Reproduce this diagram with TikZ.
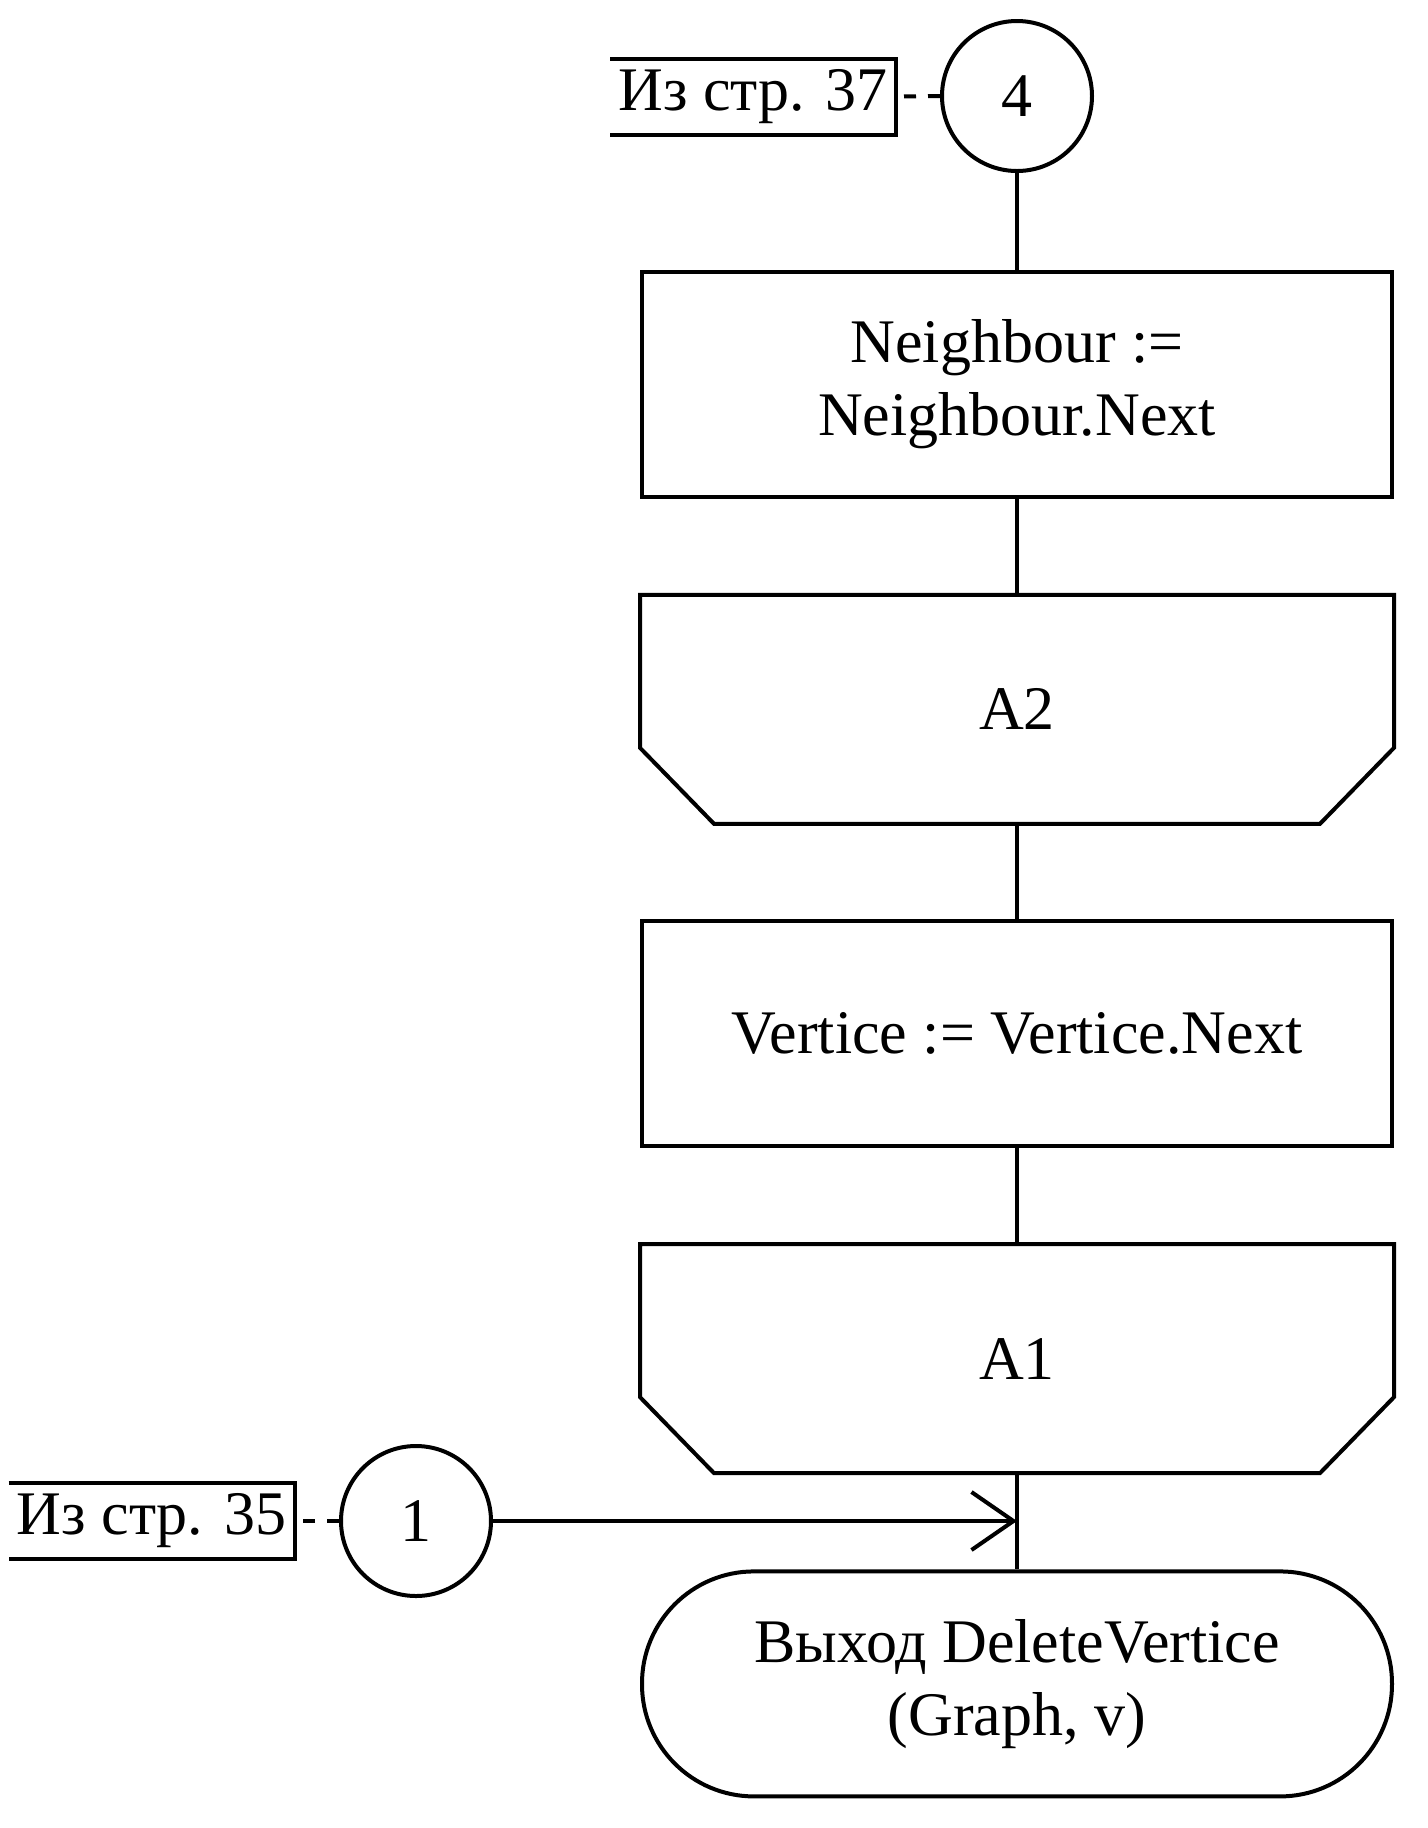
\documentclass[tikz,border=0pt]{standalone}
\usepackage{fontspec}
\setmainfont{Liberation Serif}
\usetikzlibrary{arrows.meta}
\begin{document}
\begin{tikzpicture}[x=0.5pt,y=-0.5pt, line width=2pt,
  font=\fontsize{31}{36.5}\selectfont,
  proc/.style={draw, rectangle, minimum width=375pt, minimum height=112.5pt, align=center, inner sep=0pt},
  loopend/.style={rectangle, minimum width=375pt, minimum height=112.5pt, inner sep=0pt},
  termbox/.style={draw, rectangle, rounded corners=56pt, minimum width=375pt, minimum height=112.5pt, align=center, inner sep=0pt},
  conn/.style={draw, circle, minimum size=75pt, inner sep=0pt},
  lbl/.style={rectangle, minimum width=141pt, minimum height=36pt, inner sep=0pt},
  comment/.style={dash pattern=on 6pt off 6pt},
  flow/.style={-{Straight Barb[length=21pt,width=29pt]}}
]
\useasboundingbox (0,0) rectangle (1428,1828);

\node[conn] (c4) at (1017,96) {4};
\node[lbl] (l37) at (753,96.5) {Из стр. 37};
\node[proc] (b1) at (1017,384) {Neighbour :=\\Neighbour.Next};
\node[loopend] (a2) at (1017,709.3) {A2};
\node[proc] (b3) at (1017,1033.4) {Vertice := Vertice.Next};
\node[loopend] (a1) at (1017,1358.6) {A1};
\node[termbox] (term) at (1017,1683.9) {Выход DeleteVertice\\(Graph, v)};
\node[conn] (c1) at (416,1521) {1};
\node[lbl] (l35) at (151.5,1521) {Из стр. 35};

% loop end shapes
\foreach \n in {a2,a1}{
  \draw ([yshift=38pt]\n.south west) -- (\n.north west) -- (\n.north east)
        -- ([yshift=38pt]\n.south east) -- ([xshift=-37pt]\n.south east)
        -- ([xshift=37pt]\n.south west) -- cycle;
}

% comment brackets
\draw (l37.north west) -- (l37.north east) -- (l37.south east) -- (l37.south west);
\draw (l35.north west) -- (l35.north east) -- (l35.south east) -- (l35.south west);
\draw[comment] (c4.west) -- (l37.east);
\draw[comment] (c1.west) -- (l35.east);

% flow lines
\draw (c4.south) -- (b1.north);
\draw (b1.south) -- (a2.north);
\draw (a2.south) -- (b3.north);
\draw (b3.south) -- (a1.north);
\draw (a1.south) -- (term.north);
\draw[flow] (c1.east) -- (c1.east -| a1.south);
\end{tikzpicture}
\end{document}
